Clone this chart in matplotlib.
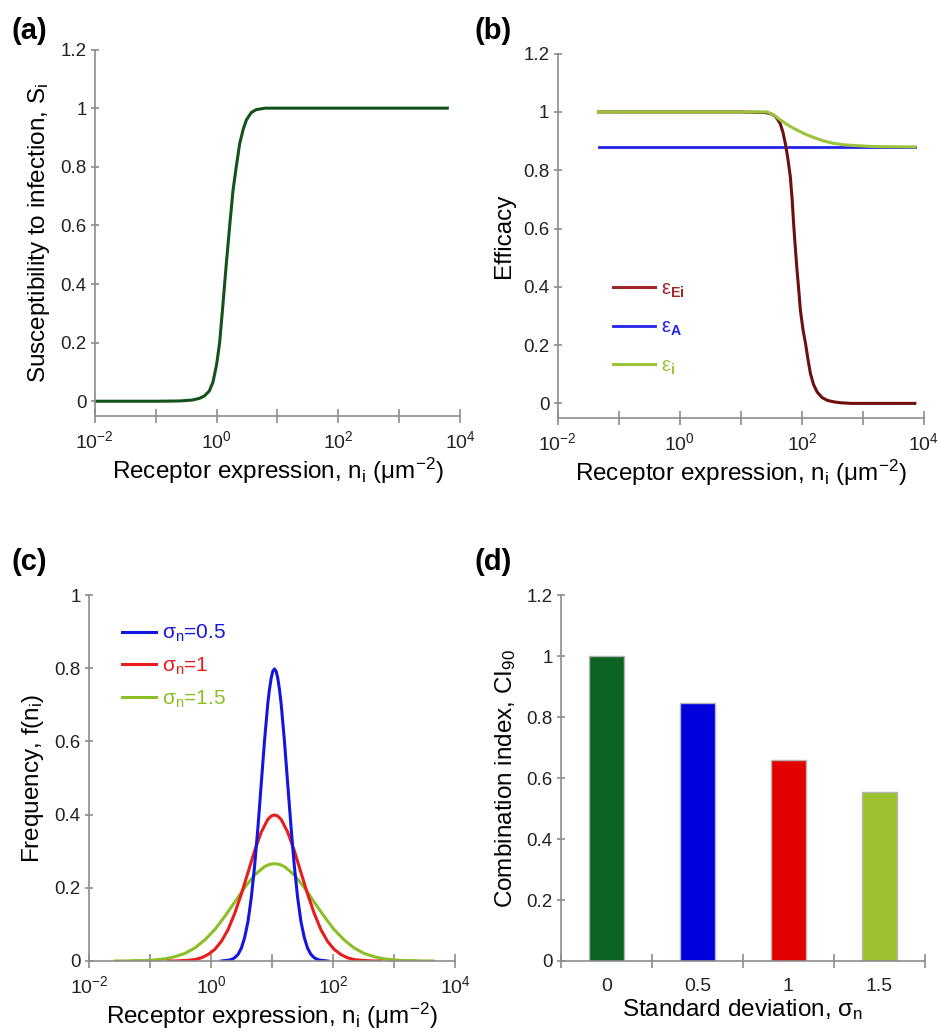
import numpy as np
import matplotlib.pyplot as plt
from matplotlib.ticker import FixedLocator, NullLocator, FuncFormatter

plt.rcParams['font.family'] = ['Liberation Sans', 'DejaVu Sans']
plt.rcParams['mathtext.fontset'] = 'custom'
plt.rcParams['mathtext.rm'] = 'Liberation Sans'
plt.rcParams['mathtext.it'] = 'Liberation Sans:italic'
plt.rcParams['mathtext.bf'] = 'Liberation Sans:bold'

# (a) susceptibility S_i vs log10 of receptor expression
a_log_n = [-2.0, -1.0, -0.6, -0.4, -0.28, -0.2, -0.12, -0.06, 0.0, 0.05, 0.1, 0.16, 0.22,
           0.27, 0.33, 0.38, 0.44, 0.49, 0.57, 0.65, 0.8, 1.0, 2.0, 3.0, 3.79]
a_s = [0.0, 0.0, 0.001, 0.004, 0.01, 0.018, 0.035, 0.065, 0.125, 0.2, 0.32, 0.47, 0.61,
       0.72, 0.81, 0.88, 0.93, 0.96, 0.985, 0.995, 1.0, 1.0, 1.0, 1.0, 1.0]

# (b) efficacies
b_log_n_ei = [-1.33, 1.0, 1.4, 1.5, 1.56, 1.6, 1.645, 1.69, 1.73, 1.77, 1.81, 1.84,
              1.864, 1.89, 1.92, 1.95, 1.975, 2.02, 2.06, 2.1, 2.14, 2.19, 2.25,
              2.33, 2.42, 2.53, 2.64, 2.8, 3.85]
b_eff_ei = [1.0, 1.0, 0.998, 0.993, 0.985, 0.975, 0.96, 0.93, 0.89, 0.84, 0.778, 0.70,
            0.617, 0.54, 0.457, 0.385, 0.32, 0.25, 0.205, 0.15, 0.102, 0.065, 0.039,
            0.02, 0.01, 0.005, 0.002, 0.0, 0.0]
b_log_n_a = [-1.33, 3.85]
b_eff_a = [0.88, 0.88]
b_log_n_i = [-1.33, 1.0, 1.43, 1.53, 1.645, 1.75, 1.864, 1.975, 2.086, 2.2, 2.306,
             2.42, 2.525, 2.7, 2.856, 3.1, 3.3, 3.85]
b_eff_i = [1.0, 1.0, 1.0, 0.99, 0.973, 0.958, 0.944, 0.932, 0.921, 0.912, 0.904,
           0.897, 0.892, 0.887, 0.885, 0.882, 0.881, 0.88]
b_labels = [r'ε$_{\mathbf{Ei}}$', r'ε$_{\mathbf{A}}$', r'ε$_{\mathbf{i}}$']

# (c) frequency distributions f(n_i)
c_log_n_05 = [0.171, 0.225, 0.280, 0.334, 0.388, 0.443, 0.497, 0.551, 0.606, 0.660, 0.714,
              0.769, 0.823, 0.877, 0.931, 0.958, 0.986, 1.013, 1.040, 1.067, 1.094, 1.122,
              1.149, 1.203, 1.257, 1.312, 1.366, 1.420, 1.474, 1.529, 1.583, 1.637, 1.692,
              1.746, 1.800, 1.855, 1.909]
c_f_05 = [0.000, 0.001, 0.002, 0.004, 0.009, 0.018, 0.035, 0.064, 0.108, 0.173, 0.259,
          0.365, 0.484, 0.602, 0.704, 0.742, 0.773, 0.792, 0.798, 0.792, 0.773, 0.742,
          0.704, 0.602, 0.484, 0.365, 0.259, 0.173, 0.108, 0.064, 0.035, 0.018, 0.009,
          0.004, 0.002, 0.001, 0.000]
c_log_n_1 = [-0.697, -0.589, -0.480, -0.371, -0.263, -0.154, -0.046, 0.063, 0.171, 0.280,
             0.388, 0.497, 0.606, 0.714, 0.823, 0.931, 0.986, 1.040, 1.094, 1.149, 1.257,
             1.366, 1.474, 1.583, 1.692, 1.800, 1.909, 2.017, 2.126, 2.234, 2.343, 2.451,
             2.560, 2.669, 2.777]
c_f_1 = [0.000, 0.000, 0.001, 0.002, 0.004, 0.009, 0.018, 0.032, 0.054, 0.086, 0.130,
         0.183, 0.242, 0.301, 0.352, 0.387, 0.396, 0.399, 0.396, 0.387, 0.352, 0.301,
         0.242, 0.183, 0.130, 0.086, 0.054, 0.032, 0.018, 0.009, 0.004, 0.002, 0.001,
         0.000, 0.000]
c_log_n_15 = [-1.565, -1.402, -1.239, -1.076, -0.913, -0.751, -0.588, -0.425, -0.262, -0.099,
              0.063, 0.226, 0.389, 0.552, 0.714, 0.877, 0.958, 1.040, 1.122, 1.203, 1.366,
              1.528, 1.691, 1.854, 2.017, 2.180, 2.342, 2.505, 2.668, 2.831, 2.994, 3.157,
              3.319, 3.482, 3.645]
c_f_15 = [0.000, 0.000, 0.001, 0.001, 0.003, 0.006, 0.012, 0.021, 0.036, 0.058, 0.086,
          0.122, 0.161, 0.201, 0.235, 0.258, 0.264, 0.266, 0.264, 0.258, 0.235, 0.201,
          0.161, 0.122, 0.086, 0.058, 0.036, 0.021, 0.012, 0.006, 0.003, 0.001, 0.001,
          0.000, 0.000]
c_labels = [r'σ$_{\mathregular{n}}$=0.5', r'σ$_{\mathregular{n}}$=1', r'σ$_{\mathregular{n}}$=1.5']

# (d) combination index
d_sigma = ['0', '0.5', '1', '1.5']
d_ci = [1.0, 0.845, 0.66, 0.555]
d_colors = ['#0b6421', '#0000dd', '#e30000', '#9cc32e']

xlab = r'Receptor expression, n$_{\mathregular{i}}$ (μm$^{\mathregular{-2}}$)'
gray = '#8c8c8c'


def style(ax, xlen=10, ylen=6):
    for s in ['top', 'right']:
        ax.spines[s].set_visible(False)
    for s in ['left', 'bottom']:
        ax.spines[s].set_color(gray)
        ax.spines[s].set_linewidth(1.2)
    ax.tick_params(axis='x', which='both', direction='inout', length=xlen, width=1.2,
                   color=gray, labelsize=14, pad=5, labelcolor='#222222')
    ax.tick_params(axis='y', which='both', direction='inout', length=ylen, width=1.2,
                   color=gray, labelsize=13.5, pad=3, labelcolor='#222222')


def log_axis(ax):
    ax.set_xscale('log')
    ax.set_xlim(1e-2, 1e4)
    ax.xaxis.set_major_locator(FixedLocator([1e-2, 1e-1, 1e0, 1e1, 1e2, 1e3, 1e4]))
    ax.xaxis.set_minor_locator(NullLocator())
    ax.set_xticklabels([r'$10^{-2}$', '', r'$10^{0}$', '', r'$10^{2}$', '', r'$10^{4}$'])
    ax.set_xlabel(xlab, fontsize=17.5, labelpad=3)


fmt = FuncFormatter(lambda v, p: '%g' % round(v, 2))

fig = plt.figure(figsize=(9.39, 10.32), dpi=100)

# (a)
ax = fig.add_axes([0.101, 0.597, 0.389, 0.355])
ax.plot(10 ** np.array(a_log_n), a_s, color='#14521c', lw=2.2)
log_axis(ax)
ax.set_ylim(-0.05, 1.2)
ax.set_yticks([0, 0.2, 0.4, 0.6, 0.8, 1.0, 1.2])
ax.yaxis.set_major_formatter(fmt)
ax.set_ylabel(r'Susceptibility to infection, S$_{\mathregular{i}}$', fontsize=17.5, labelpad=6)
style(ax)
fig.text(0.012, 0.962, '(a)', fontsize=21, fontweight='bold')

# (b)
ax = fig.add_axes([0.594, 0.595, 0.390, 0.353])
l_a, = ax.plot(10 ** np.array(b_log_n_a), b_eff_a, color='#2323e8', lw=2.0)
l_ei, = ax.plot(10 ** np.array(b_log_n_ei), b_eff_ei, color='#6e0f0f', lw=2.2)
l_i, = ax.plot(10 ** np.array(b_log_n_i), b_eff_i, color='#9bc43c', lw=2.2)
log_axis(ax)
ax.set_ylim(-0.05, 1.2)
ax.set_yticks([0, 0.2, 0.4, 0.6, 0.8, 1.0, 1.2])
ax.yaxis.set_major_formatter(fmt)
ax.set_ylabel('Efficacy', fontsize=17.5, labelpad=6)
style(ax)
leg = ax.legend([l_ei, l_a, l_i], b_labels, loc='upper left', bbox_to_anchor=(0.1, 0.43),
                frameon=False, fontsize=14.5, handlelength=2.1, labelspacing=0.9,
                handletextpad=0.3, labelcolor=['#a0282a', '#2323e8', '#9bc43c'])
leg.get_lines()[0].set_color('#a0282a')
fig.text(0.505, 0.962, '(b)', fontsize=21, fontweight='bold')

# (c)
ax = fig.add_axes([0.0948, 0.0688, 0.3898, 0.3546])
l15, = ax.plot(10 ** np.array(c_log_n_15), c_f_15, color='#8cbf26', lw=2.2)
l1, = ax.plot(10 ** np.array(c_log_n_1), c_f_1, color='#e81c1c', lw=2.2)
l05, = ax.plot(10 ** np.array(c_log_n_05), c_f_05, color='#1515e0', lw=2.2)
log_axis(ax)
ax.set_ylim(0, 1)
ax.set_yticks([0, 0.2, 0.4, 0.6, 0.8, 1.0])
ax.yaxis.set_major_formatter(fmt)
ax.set_ylabel(r'Frequency, f(n$_{\mathregular{i}}$)', fontsize=17.5, labelpad=6)
style(ax)
ax.legend([l05, l1, l15], c_labels, loc='upper left', bbox_to_anchor=(0.04, 0.975),
          frameon=False, fontsize=15, handlelength=1.6, labelspacing=0.55,
          handletextpad=0.3, labelcolor=['#1515e0', '#e81c1c', '#8cbf26'])
fig.text(0.012, 0.448, '(c)', fontsize=21, fontweight='bold')

# (d)
ax = fig.add_axes([0.5974, 0.0688, 0.3876, 0.3546])
pos = np.arange(len(d_sigma))
ax.bar(pos, d_ci, width=0.38, color=d_colors, edgecolor='#b5b5b5', linewidth=1.0)
ax.set_xlim(-0.5, len(d_sigma) - 0.5)
ax.set_ylim(0, 1.2)
ax.xaxis.set_major_locator(FixedLocator(list(pos - 0.5) + [len(d_sigma) - 0.5]))
ax.xaxis.set_major_formatter(FuncFormatter(lambda v, p: ''))
ax.set_xticks(pos, minor=True)
ax.set_xticklabels(d_sigma, minor=True)
ax.set_yticks([0, 0.2, 0.4, 0.6, 0.8, 1.0, 1.2])
ax.yaxis.set_major_formatter(fmt)
ax.set_ylabel(r'Combination index, CI$_{\mathregular{90}}$', fontsize=17.5, labelpad=6)
ax.set_xlabel(r'Standard deviation, σ$_{\mathregular{n}}$', fontsize=17.5, labelpad=2)
style(ax)
ax.tick_params(axis='x', which='minor', length=0, pad=12)
fig.text(0.505, 0.448, '(d)', fontsize=21, fontweight='bold')

fig.savefig('out.png', dpi=100)
